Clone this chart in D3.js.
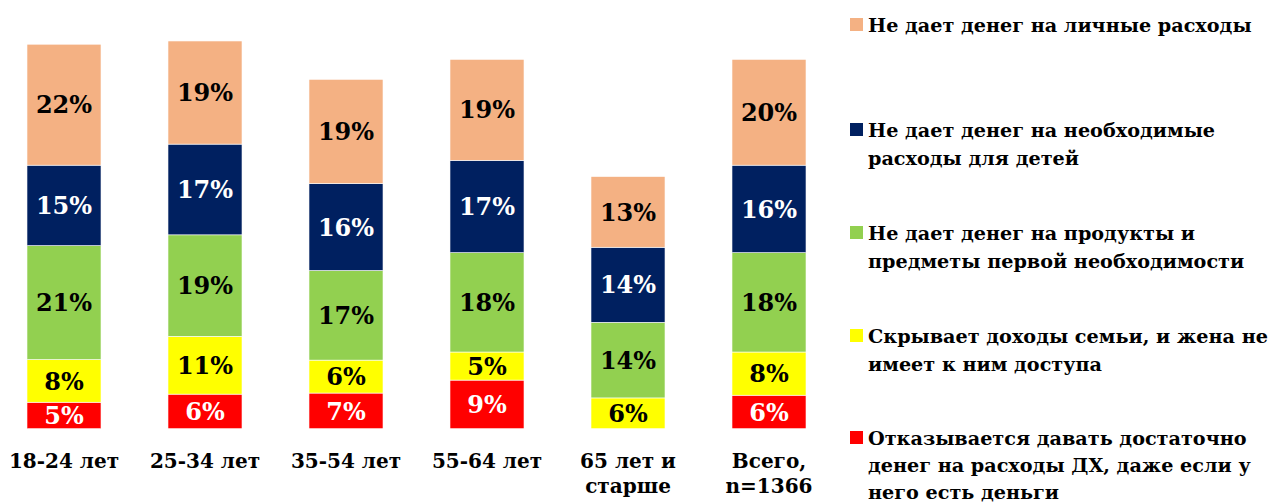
<!DOCTYPE html>
<html>
<head>
<meta charset="utf-8">
<script src="https://cdn.jsdelivr.net/npm/d3@7"></script>
<style>
  html, body { margin: 0; padding: 0; background: #fff; }
  svg { display: block; }
  text { font-family: "DejaVu Serif", "Liberation Serif", serif; font-weight: bold; }
</style>
</head>
<body>
<svg id="chart" width="1273" height="504"></svg>
<script>
// ---- data ----
const categories = ["18-24 лет", "25-34 лет", "35-54 лет", "55-64 лет", "65 лет и\nстарше", "Всего,\nn=1366"];
const seriesNames = [
  "Отказывается давать достаточно\nденег на расходы ДХ, даже если у\nнего есть деньги",
  "Скрывает доходы семьи, и жена не\nимеет к ним доступа",
  "Не дает денег на продукты и\nпредметы первой необходимости",
  "Не дает денег на необходимые\nрасходы для детей",
  "Не дает денег на личные расходы"
];
const refusesMoney   = [4.9, 6.4, 6.6, 9.0, 0,    6.2];
const hidesIncome    = [7.9, 10.7, 6.1, 5.2, 5.7, 8.0];
const noEssentials   = [21.1, 18.8, 16.6, 18.4, 14.0, 18.4];
const noChildren     = [14.9, 16.8, 16.1, 17.1, 13.9, 16.2];
const noPersonal     = [22.4, 19.1, 19.3, 18.7, 13.1, 19.6];
const seriesValues = [refusesMoney, hidesIncome, noEssentials, noChildren, noPersonal];
const seriesColors = ["#FF0000", "#FFFF00", "#92D050", "#002060", "#F4B183"];
const labelColors  = ["#FFFFFF", "#000000", "#000000", "#FFFFFF", "#000000"];

// ---- layout ----
const svg = d3.select("#chart");
const baseY = 428.7;
const pxPerPct = 5.4;
const y = d3.scaleLinear().domain([0, 75]).range([baseY, baseY - 75 * pxPerPct]);
const x = d3.scaleBand().domain(categories).range([-6.5, 839.5]).paddingInner(0.475).paddingOuter(0.2375);

const rows = categories.map((c, i) => {
  const r = { cat: c };
  seriesValues.forEach((arr, s) => r["s" + s] = arr[i]);
  return r;
});
const keys = seriesValues.map((_, s) => "s" + s);
const stacked = d3.stack().keys(keys)(rows);

const g = svg.append("g");
stacked.forEach((layer, s) => {
  const lg = g.append("g");
  lg.selectAll("rect").data(layer).join("rect")
    .attr("x", d => x(d.data.cat))
    .attr("width", x.bandwidth())
    .attr("y", d => y(d[1]))
    .attr("height", d => y(d[0]) - y(d[1]))
    .attr("fill", seriesColors[s])
    .attr("stroke", "#fff").attr("stroke-width", 0.6)
    .style("display", d => (d[1] - d[0]) > 0 ? null : "none");
  lg.selectAll("text").data(layer.filter(d => d[1] - d[0] > 0)).join("text")
    .attr("x", d => x(d.data.cat) + x.bandwidth() / 2)
    .attr("y", d => (y(d[0]) + y(d[1])) / 2)
    .attr("dy", "0.36em")
    .attr("text-anchor", "middle")
    .attr("font-size", 24)
    .attr("fill", labelColors[s])
    .text(d => Math.round(d[1] - d[0]) + "%");
});

// category labels
const catG = svg.append("g");
categories.forEach(c => {
  const lines = c.split("\n");
  const t = catG.append("text")
    .attr("x", x(c) + x.bandwidth() / 2)
    .attr("y", 468)
    .attr("text-anchor", "middle")
    .attr("font-size", 20)
    .attr("fill", "#000");
  lines.forEach((ln, k) => t.append("tspan")
    .attr("x", x(c) + x.bandwidth() / 2)
    .attr("y", 468 + k * 25)
    .text(ln));
});

// legend (top to bottom: reverse series order)
const legendTop = [32, 137, 240, 343, 445];
const legendG = svg.append("g");
const order = [4, 3, 2, 1, 0];
order.forEach((s, k) => {
  const by = legendTop[k];
  legendG.append("rect")
    .attr("x", 850).attr("y", by - 14).attr("width", 13).attr("height", 13)
    .attr("fill", seriesColors[s]);
  const t = legendG.append("text")
    .attr("font-size", 19.2).attr("fill", "#000");
  const lineGap = k === 4 ? 26.8 : 27.5;
  seriesNames[s].split("\n").forEach((ln, j) => t.append("tspan")
    .attr("x", 868).attr("y", by + j * lineGap).text(ln));
});
</script>
</body>
</html>
